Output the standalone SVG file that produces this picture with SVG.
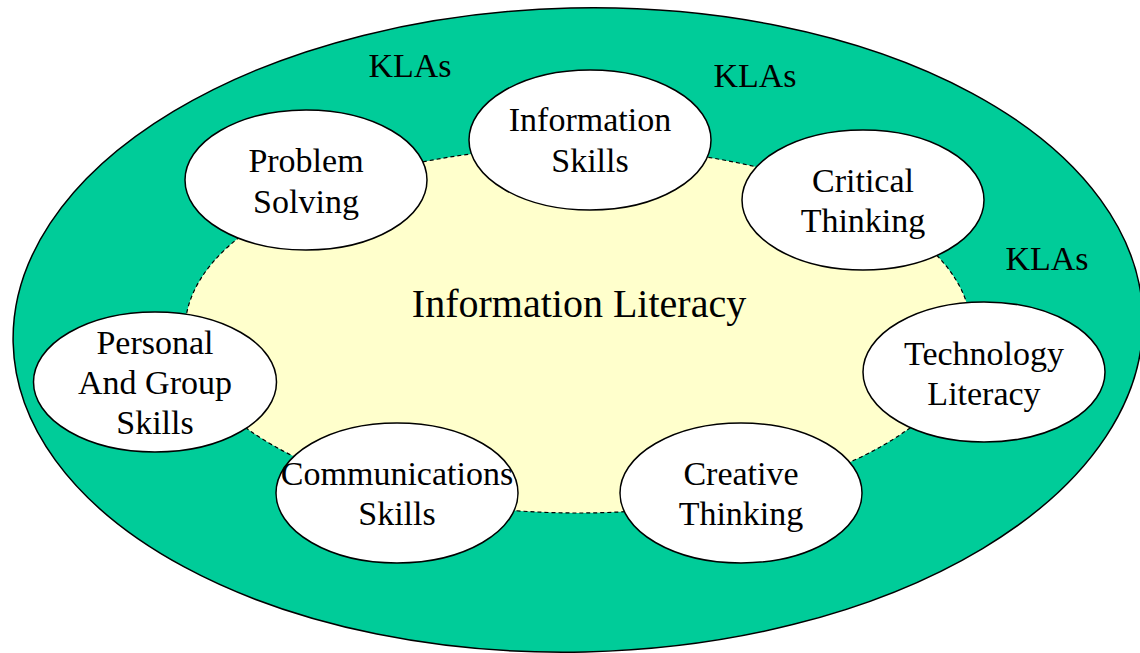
<svg xmlns="http://www.w3.org/2000/svg" width="1140" height="653" viewBox="0 0 1140 653">
<style>
.t{font-family:"Liberation Serif","Times New Roman",serif;font-size:34px;fill:#000;text-anchor:middle}
.big{font-size:40px}
.node{fill:#fff;stroke:#000;stroke-width:1.5}
</style>
<rect width="1140" height="653" fill="#fff"/>
<g id="outer">
<ellipse cx="578" cy="330" rx="565" ry="322" transform="rotate(-1.3 578 330)" fill="#00CC99" stroke="#000" stroke-width="1.5"/>
<text class="t" x="410" y="77">KLAs</text>
<text class="t" x="755" y="87">KLAs</text>
<text class="t" x="1047" y="270">KLAs</text>
</g>
<g id="core">
<ellipse cx="578" cy="330" rx="393" ry="183" fill="#FFFFCC" stroke="#000" stroke-width="1.2" stroke-dasharray="4 3"/>
<text class="t big" x="579" y="317">Information Literacy</text>
</g>
<g id="connectors"></g>
<g id="problem-solving">
<ellipse class="node" cx="306" cy="180" rx="121" ry="70"/>
<text class="t" x="306" y="172">Problem</text>
<text class="t" x="306" y="213">Solving</text>
</g>
<g id="information-skills">
<ellipse class="node" cx="590" cy="140" rx="121" ry="70"/>
<text class="t" x="590" y="131">Information</text>
<text class="t" x="590" y="172">Skills</text>
</g>
<g id="critical-thinking">
<ellipse class="node" cx="863" cy="200" rx="121" ry="70"/>
<text class="t" x="863" y="192">Critical</text>
<text class="t" x="863" y="232">Thinking</text>
</g>
<g id="technology-literacy">
<ellipse class="node" cx="984" cy="372" rx="121" ry="70"/>
<text class="t" x="984" y="365">Technology</text>
<text class="t" x="984" y="405">Literacy</text>
</g>
<g id="creative-thinking">
<ellipse class="node" cx="741" cy="493" rx="121" ry="70"/>
<text class="t" x="741" y="485">Creative</text>
<text class="t" x="741" y="525">Thinking</text>
</g>
<g id="communications-skills">
<ellipse class="node" cx="397" cy="493" rx="121" ry="70"/>
<text class="t" x="397" y="485">Communications</text>
<text class="t" x="397" y="525">Skills</text>
</g>
<g id="personal-group-skills">
<ellipse class="node" cx="155" cy="382" rx="121.5" ry="70"/>
<text class="t" x="155" y="354">Personal</text>
<text class="t" x="155" y="394">And Group</text>
<text class="t" x="155" y="434">Skills</text>
</g>
</svg>
